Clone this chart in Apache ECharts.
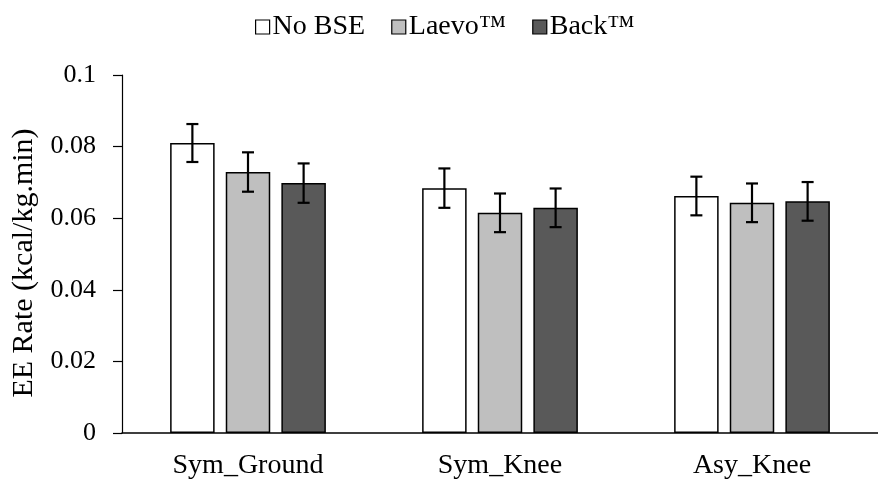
<!DOCTYPE html>
<html>
<head>
<meta charset="utf-8">
<script src="https://cdn.jsdelivr.net/npm/echarts@6/dist/echarts.min.js"></script>
<style>html,body{margin:0;padding:0;background:#fff}#c{width:878px;height:483px}</style>
</head>
<body>
<div id="c"></div>
<script>
var categories = ['Sym_Ground', 'Sym_Knee', 'Asy_Knee'];
var seriesNames = ['No BSE', 'Laevo\u2122', 'Back\u2122'];
var noBSE = [0.0810, 0.0684, 0.0662];
var laevo = [0.0729, 0.0615, 0.0643];
var back = [0.0698, 0.0629, 0.0647];
var noBSEErr = [0.0053, 0.0055, 0.0054];
var laevoErr = [0.0055, 0.0054, 0.0054];
var backErr = [0.0055, 0.0054, 0.0054];
var yTicks = [0, 0.02, 0.04, 0.06, 0.08, 0.1];

var values = [noBSE, laevo, back];
var errs = [noBSEErr, laevoErr, backErr];
var colors = ['#ffffff', '#bfbfbf', '#595959'];
var FONT = '"Liberation Serif", "Times New Roman", serif';
var BAR_GAP = 0.25, CAT_GAP = 0.382;

var series = [];
values.forEach(function (v, i) {
  series.push({
    name: seriesNames[i], type: 'bar', data: v,
    barGap: '25%', barCategoryGap: '38.2%',
    itemStyle: { color: colors[i], borderColor: '#000', borderWidth: 1.5 },
    emphasis: { disabled: true }
  });
});
values.forEach(function (v, i) {
  series.push({
    type: 'custom', silent: true, z: 5,
    data: v.map(function (val, k) { return [k, val - errs[i][k], val + errs[i][k]]; }),
    renderItem: function (params, api) {
      var k = api.value(0);
      var band = api.size([1, 0])[0];
      var w = band * (1 - CAT_GAP) / (3 + 2 * BAR_GAP);
      var lo = api.coord([k, api.value(1)]);
      var hi = api.coord([k, api.value(2)]);
      var x = lo[0] + (i - 1) * w * (1 + BAR_GAP);
      var cap = 6;
      var st = { stroke: '#000', lineWidth: 2.2 };
      return { type: 'group', children: [
        { type: 'line', shape: { x1: x, y1: lo[1], x2: x, y2: hi[1] }, style: st },
        { type: 'line', shape: { x1: x - cap, y1: lo[1], x2: x + cap, y2: lo[1] }, style: st },
        { type: 'line', shape: { x1: x - cap, y1: hi[1], x2: x + cap, y2: hi[1] }, style: st }
      ]};
    },
    encode: { x: 0, y: [1, 2] }
  });
});

var chart = echarts.init(document.getElementById('c'), null, { renderer: 'canvas' });
chart.setOption({
  animation: false,
  backgroundColor: '#fff',
  textStyle: { fontFamily: FONT },
  legend: {
    data: seriesNames, left: 250, top: 8,
    itemWidth: 14, itemHeight: 14, itemGap: 26,
    icon: 'rect',
    itemStyle: { borderColor: '#000', borderWidth: 1.2 },
    textStyle: { fontFamily: FONT, fontSize: 28, color: '#000', padding: [0, 0, 0, -2] }
  },
  grid: { left: 122, right: -9, top: 75, bottom: 50, containLabel: false },
  xAxis: {
    type: 'category', data: categories,
    axisLine: { lineStyle: { color: '#000', width: 1.5 } },
    axisTick: { show: false },
    axisLabel: { color: '#000', fontFamily: FONT, fontSize: 28, margin: 19 }
  },
  yAxis: {
    type: 'value', min: 0, max: 0.1, interval: 0.02,
    name: 'EE Rate (kcal/kg.min)', nameLocation: 'middle', nameGap: 83,
    nameTextStyle: { color: '#000', fontFamily: FONT, fontSize: 30, padding: [0, 18, 0, 0] },
    splitLine: { show: false },
    axisLine: { show: true, lineStyle: { color: '#000', width: 1.2 } },
    axisTick: { show: true, length: 9, lineStyle: { color: '#000', width: 1.2 } },
    axisLabel: {
      color: '#000', fontFamily: FONT, fontSize: 26, margin: 26,
      formatter: function (v) {
        for (var j = 0; j < yTicks.length; j++) { if (Math.abs(yTicks[j] - v) < 1e-9) return String(yTicks[j]); }
        return '';
      }
    }
  },
  series: series
});
</script>
</body>
</html>
